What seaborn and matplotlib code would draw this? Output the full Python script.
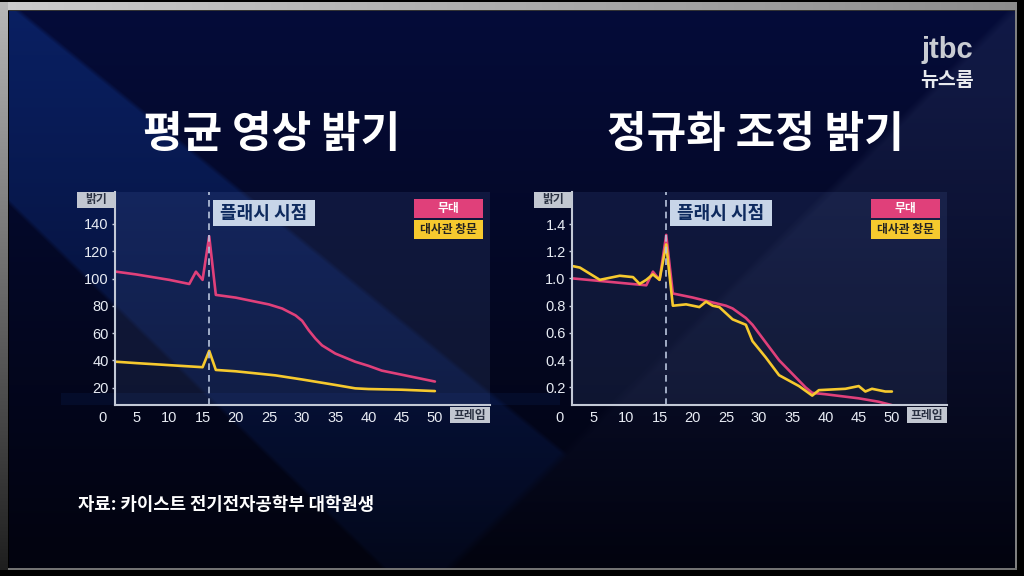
import numpy as np
import seaborn as sns
import matplotlib.pyplot as plt
from matplotlib.patches import Rectangle

# ---- data ----
x_ticks = [5, 10, 15, 20, 25, 30, 35, 40, 45, 50]
flash_frame = 16

# average brightness (left)
avg_stage_x = [2, 5, 10, 13, 14, 15, 16, 17, 20, 25, 27, 29, 30, 31, 32, 33, 35, 38, 40, 42, 45, 48, 50]
avg_stage_y = [105, 103, 99, 96, 105, 99, 131, 88, 86, 81, 78, 73, 69, 62, 56, 51, 45, 39, 36, 32.5, 29.5, 26.5, 24.5]
avg_window_x = [2, 5, 10, 15, 16, 17, 20, 26, 30, 35, 38, 40, 45, 50]
avg_window_y = [39, 38, 36.5, 35, 47, 33, 32, 29, 26, 22, 19.5, 19, 18.5, 17.5]
avg_yticks = [20, 40, 60, 80, 100, 120, 140]

# normalized brightness (right)
norm_stage_x = [2, 13, 14, 15, 16, 17, 20, 25, 26, 28, 29, 31, 33, 35, 37, 38, 40, 45, 48, 50]
norm_stage_y = [1.00, 0.95, 1.05, 0.99, 1.32, 0.89, 0.86, 0.80, 0.78, 0.71, 0.66, 0.53, 0.40, 0.30, 0.20, 0.16, 0.15, 0.12, 0.095, 0.07]
norm_window_x = [2, 3, 6, 9, 11, 12, 13, 14, 15, 16, 17, 19, 21, 22, 23, 24, 26, 28, 29, 31, 33, 36, 38, 39, 43, 45, 46, 47, 49, 50]
norm_window_y = [1.09, 1.08, 0.99, 1.02, 1.01, 0.96, 0.99, 1.03, 0.99, 1.25, 0.80, 0.81, 0.79, 0.83, 0.80, 0.79,
                 0.70, 0.66, 0.54, 0.42, 0.29, 0.21, 0.14, 0.18, 0.19, 0.21, 0.17, 0.19, 0.17, 0.17]
norm_yticks = [0.2, 0.4, 0.6, 0.8, 1.0, 1.2, 1.4]

titles = ["평균 영상 밝기", "정규화 조정 밝기"]
series_names = ["무대", "대사관 창문"]
source = "자료: 카이스트 전기전자공학부 대학원생"

PINK = "#e0407a"
YELLOW = "#f6c92e"
KR = ["Noto Sans CJK KR", "DejaVu Sans"]

W, H = 1024, 576

sns.set_theme(style="ticks")
plt.rcParams["font.family"] = ["Liberation Sans", "Noto Sans CJK KR", "DejaVu Sans"]


def make_background():
    yy, xx = np.mgrid[0:H, 0:W].astype(float)
    t = (yy / H)[..., None]
    top = np.array([5, 12, 58]) / 255
    bot = np.array([2, 3, 14]) / 255
    img = top * (1 - t) + bot * t

    # right lighter triangle, soft edge
    edge2 = 15 + (1001 - xx) * 0.99
    soft2 = np.clip((yy - edge2) / 12, 0, 1)
    a2 = soft2 * np.clip((560 - yy) / 460, 0, 1) * 0.16
    img = img * (1 - a2[..., None]) + np.array([80, 95, 140]) / 255 * a2[..., None]

    # blue diagonal band from top-left
    up = 15 + (xx - 27) * 0.81
    low = 206 + (xx - 10) * 0.975
    in1 = np.clip((yy - up) / 6, 0, 1) * np.clip((low - yy) / 6, 0, 1) * (1 - soft2)
    a1 = in1 * np.clip(0.5 - yy / 1400, 0.0, 0.5)
    img = img * (1 - a1[..., None]) + np.array([14, 52, 140]) / 255 * a1[..., None]

    # thin lighter strip along the chart bottoms
    strip = (yy > 392) & (yy < 405) & (xx < 560) & (xx > 60)
    img = np.where(strip[..., None], img * 0.88 + np.array([20, 60, 150]) / 255 * 0.12, img)

    # TV frame
    framed = np.zeros_like(img)
    framed[11:568, 9:1015] = img[11:568, 9:1015]
    g = np.linspace(0.8, 0.55, 1017)
    framed[2:10, 0:1017] = g[None, :, None]
    framed[10:11, 8:1017] = 0.2
    lv = np.linspace(0.72, 0.12, 568)
    framed[2:570, 0:8] = lv[:, None, None]
    framed[10:570, 1015:1017] = 0.5
    framed[568:570, 8:1017] = 0.45
    return framed


def box(fig, x0, y0, x1, y1, fc, label, tc, size):
    fig.add_artist(Rectangle((x0 / W, 1 - y1 / H), (x1 - x0) / W, (y1 - y0) / H,
                             transform=fig.transFigure, facecolor=fc, edgecolor="none", zorder=5))
    fig.text((x0 + x1) / 2 / W, 1 - (y0 + y1) / 2 / H, label, ha="center", va="center",
             color=tc, fontsize=size, fontweight="bold", family=KR, zorder=6)


def draw_chart(ax, sx, sy, wx, wy, yticks, ylim, fmt):
    ax.set_facecolor((0.35, 0.45, 0.7, 0.15))
    sns.lineplot(x=sx, y=sy, ax=ax, color=PINK, linewidth=1.9, estimator=None)
    sns.lineplot(x=wx, y=wy, ax=ax, color=YELLOW, linewidth=1.9, estimator=None)
    ax.axvline(flash_frame, color="#b9c5dd", linewidth=1.2, linestyle=(0, (4, 3)))
    ax.set_xlim(1.81, 58.3)
    ax.set_ylim(*ylim)
    ax.set_xticks(x_ticks)
    ax.set_yticks(yticks)
    ax.set_yticklabels([fmt.format(v) for v in yticks])
    ax.tick_params(axis="x", length=0, pad=4, labelsize=10.5, labelcolor="#e8ecf4")
    ax.tick_params(axis="y", length=2.5, width=1, color="#c8cedc", pad=2, labelsize=10.5, labelcolor="#e8ecf4")
    ax.annotate("0", xy=(0, 0), xycoords=ax.get_xaxis_transform(), xytext=(0, -4),
                textcoords="offset points", ha="center", va="top", fontsize=10.5,
                color="#e8ecf4", annotation_clip=False)
    for s in ["top", "right"]:
        ax.spines[s].set_visible(False)
    for s in ["left", "bottom"]:
        ax.spines[s].set_color("#c3c9d6")
        ax.spines[s].set_linewidth(1.5)
    ax.set_xlabel("")
    ax.set_ylabel("")
    ax.grid(False)


fig = plt.figure(figsize=(10.24, 5.76), dpi=100)
ax_bg = fig.add_axes([0, 0, 1, 1], zorder=-5)
ax_bg.imshow(make_background(), extent=(0, W, H, 0), aspect="auto", interpolation="bilinear")
ax_bg.set_axis_off()

ax_l = fig.add_axes([115 / W, 1 - 405 / H, 375 / W, 213 / H])
ax_r = fig.add_axes([572 / W, 1 - 405 / H, 375 / W, 213 / H])
draw_chart(ax_l, avg_stage_x, avg_stage_y, avg_window_x, avg_window_y, avg_yticks, (7.3, 163.4), "{:.0f}")
draw_chart(ax_r, norm_stage_x, norm_stage_y, norm_window_x, norm_window_y, norm_yticks, (0.071, 1.635), "{:.1f}")

# titles
fig.text(272 / W, 1 - 134 / H, titles[0], ha="center", va="center", color="white",
         fontsize=31, fontweight="heavy", family=KR)
fig.text(755 / W, 1 - 134 / H, titles[1], ha="center", va="center", color="white",
         fontsize=31, fontweight="heavy", family=KR)

# label boxes for both charts
for dx in (0, 457):
    box(fig, 77 + dx, 192, 115 + dx, 208, "#c2c7d1", "밝기", "#2a3142", 8.5)
    box(fig, 450 + dx, 407, 490 + dx, 423, "#c2c7d1", "프레임", "#2a3142", 8.5)
    box(fig, 213 + dx, 200, 315 + dx, 226, "#c8d5e8", "플래시 시점", "#0e2a5e", 13)
    box(fig, 414 + dx, 199, 483 + dx, 218, PINK, series_names[0], "white", 8.5)
    box(fig, 414 + dx, 220, 483 + dx, 239, YELLOW, series_names[1], "#222222", 8.5)

# source and logo
fig.text(78 / W, 1 - 505 / H, source, ha="left", va="center", color="white",
         fontsize=12.8, fontweight="bold", family=KR)
fig.text(947 / W, 1 - 50 / H, "jtbc", ha="center", va="center", color="#c9ccd2",
         fontsize=21, fontweight="bold", family=["Liberation Sans", "DejaVu Sans"])
fig.text(947 / W, 1 - 81 / H, "뉴스룸", ha="center", va="center", color="#e8eaee",
         fontsize=14, fontweight="bold", family=KR)

plt.savefig("out.png", dpi=100)
plt.close()
